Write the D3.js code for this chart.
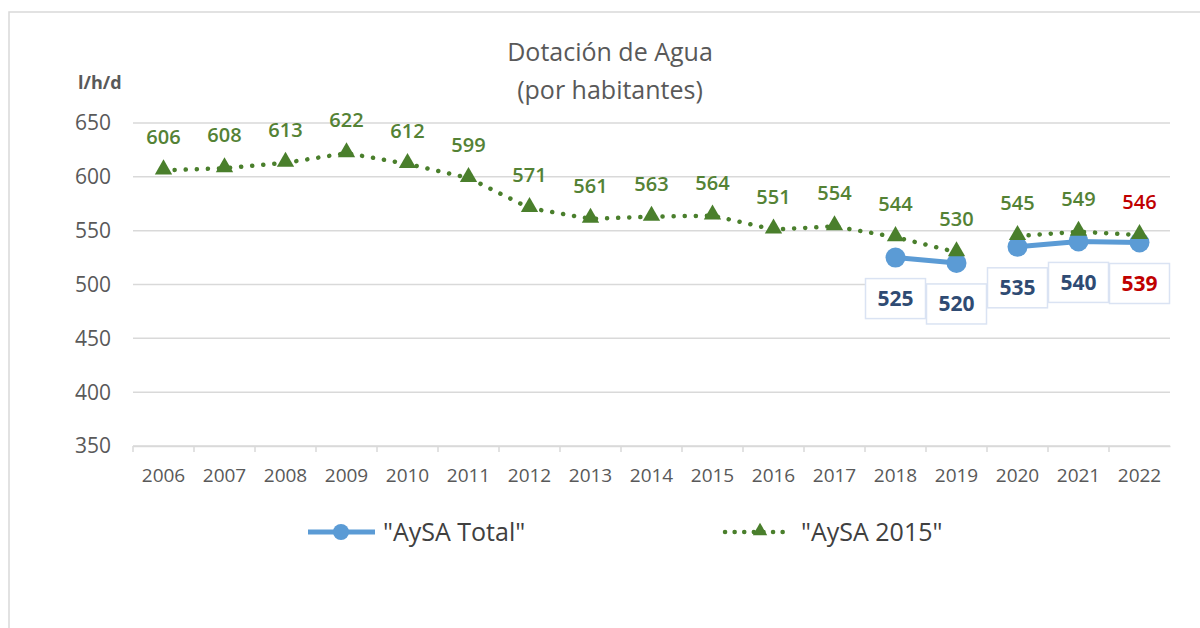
<!DOCTYPE html>
<html>
<head>
<meta charset="utf-8">
<title>Dotación de Agua</title>
<script src="https://d3js.org/d3.v7.min.js"></script>
<style>
body { margin: 0; background: #fff; font-family: 'Open Sans', 'Noto Sans', sans-serif; }
svg { display: block; }
</style>
</head>
<body>
<svg id="chart" width="1200" height="628"></svg>
<script>
  var years = ["2006","2007","2008","2009","2010","2011","2012","2013","2014","2015","2016","2017","2018","2019","2020","2021","2022"];
  // null = no value for that year
  var aysa2015 = [606, 608, 613, 622, 612, 599, 571, 561, 563, 564, 551, 554, 544, 530, 545, 549, 546];
  var aysaTotal = [null, null, null, null, null, null, null, null, null, null, null, null, 525, 520, 535, 540, 539];
  var segmentStarts = ["2020"]; // line breaks before these years
  var yTicks = [350, 400, 450, 500, 550, 600, 650];
  var redYear = "2022";

  var svg = d3.select("#chart");

  // outer frame
  svg.append("rect")
    .attr("x", 9).attr("y", 12).attr("width", 1200).attr("height", 640)
    .attr("fill", "none").attr("stroke", "#d9d9d9").attr("stroke-width", 1.5);

  var x = d3.scaleBand().domain(years).range([133, 1170]);
  var y = d3.scaleLinear().domain([350, 650]).range([446, 123]);
  var cx = function (yr) { return x(yr) + x.bandwidth() / 2; };

  // gridlines
  svg.append("g").selectAll("line").data(yTicks).join("line")
    .attr("x1", 133).attr("x2", 1170)
    .attr("y1", function (d) { return y(d); }).attr("y2", function (d) { return y(d); })
    .attr("stroke", "#d9d9d9").attr("stroke-width", 1.5);

  // y axis labels
  svg.append("g").selectAll("text").data(yTicks).join("text")
    .attr("x", 111).attr("y", function (d) { return y(d); })
    .attr("dy", "0.35em").attr("text-anchor", "end")
    .attr("font-size", 21).attr("fill", "#595959")
    .text(function (d) { return d; });

  // x axis with tick marks between categories
  var xAxis = svg.append("g").attr("transform", "translate(0," + y(350) + ")")
    .call(d3.axisBottom(x).tickSize(0).tickPadding(23));
  xAxis.select(".domain").attr("stroke", "#d9d9d9").attr("stroke-width", 1.5);
  xAxis.selectAll("text").attr("font-size", 19).attr("fill", "#595959")
    .attr("font-family", "'Open Sans', 'Noto Sans', sans-serif");
  xAxis.selectAll(".tickmark").data(years).join("line")
    .attr("class", "tickmark")
    .attr("x1", function (d) { return x(d); }).attr("x2", function (d) { return x(d); })
    .attr("y1", 0).attr("y2", 6).attr("stroke", "#d9d9d9").attr("stroke-width", 1.5);

  // titles
  svg.append("text").attr("x", 610).attr("y", 61).attr("text-anchor", "middle")
    .attr("font-size", 25).attr("fill", "#595959").text("Dotación de Agua");
  svg.append("text").attr("x", 610).attr("y", 99).attr("text-anchor", "middle")
    .attr("font-size", 25).attr("fill", "#595959").text("(por habitantes)");
  svg.append("text").attr("x", 78).attr("y", 89)
    .attr("font-size", 18).attr("font-weight", "bold").attr("fill", "#595959").text("l/h/d");

  function series(values) {
    return years.map(function (yr, i) { return { year: yr, value: values[i] }; });
  }
  var line = d3.line()
    .defined(function (d) { return d.value != null; })
    .x(function (d) { return cx(d.year); })
    .y(function (d) { return y(d.value); });

  function withBreaks(data) {
    var out = [];
    data.forEach(function (d) {
      if (segmentStarts.indexOf(d.year) >= 0) out.push({ year: d.year, value: null });
      out.push(d);
    });
    return out;
  }

  var dataTotal = series(aysaTotal);
  var data2015 = series(aysa2015);

  var green = "#548235";
  var markerGreen = "#4a7f2c";
  var blue = "#5b9bd5";

  // AySA 2015 dotted line
  svg.append("path").attr("d", line(withBreaks(data2015)))
    .attr("fill", "none").attr("stroke", markerGreen).attr("stroke-width", 4.5)
    .attr("stroke-linecap", "round").attr("stroke-dasharray", "0.1 11");

  // AySA Total line
  svg.append("path").attr("d", line(withBreaks(dataTotal)))
    .attr("fill", "none").attr("stroke", blue).attr("stroke-width", 5);

  svg.append("g").selectAll("circle").data(dataTotal.filter(function (d) { return d.value != null; })).join("circle")
    .attr("cx", function (d) { return cx(d.year); }).attr("cy", function (d) { return y(d.value); })
    .attr("r", 10).attr("fill", blue);

  var tri = d3.symbol().type(d3.symbolTriangle).size(130);
  svg.append("g").selectAll("path").data(data2015).join("path")
    .attr("d", tri)
    .attr("transform", function (d) { return "translate(" + cx(d.year) + "," + (y(d.value) - 1) + ")"; })
    .attr("fill", markerGreen);

  // green labels
  svg.append("g").selectAll("text").data(data2015).join("text")
    .attr("x", function (d) { return cx(d.year); })
    .attr("y", function (d) { return y(d.value) - 33; })
    .attr("dy", "0.35em").attr("text-anchor", "middle")
    .attr("font-size", 20).attr("font-weight", 600)
    .attr("fill", function (d) { return d.year === redYear ? "#c00000" : green; })
    .text(function (d) { return d.value; });

  // boxed blue labels
  var boxes = svg.append("g").selectAll("g").data(dataTotal.filter(function (d) { return d.value != null; })).join("g")
    .attr("transform", function (d) { return "translate(" + cx(d.year) + "," + (y(d.value) + 41) + ")"; });
  boxes.append("rect").attr("x", -30).attr("y", -20).attr("width", 60).attr("height", 40)
    .attr("fill", "#fff").attr("stroke", "#dae3f3").attr("stroke-width", 1.5);
  boxes.append("text").attr("text-anchor", "middle").attr("dy", "0.35em")
    .attr("font-size", 21).attr("font-weight", "bold")
    .attr("fill", function (d) { return d.year === redYear ? "#c00000" : "#2f4b73"; })
    .text(function (d) { return d.value; });

  // legend
  var lg = svg.append("g");
  lg.append("line").attr("x1", 308).attr("x2", 375).attr("y1", 532).attr("y2", 532)
    .attr("stroke", blue).attr("stroke-width", 5);
  lg.append("circle").attr("cx", 341).attr("cy", 532).attr("r", 8).attr("fill", blue);
  lg.append("text").attr("x", 383).attr("y", 532).attr("dy", "0.35em")
    .attr("font-size", 25).attr("fill", "#404040").text('"AySA Total"');
  lg.append("line").attr("x1", 725).attr("x2", 792).attr("y1", 532).attr("y2", 532)
    .attr("stroke", markerGreen).attr("stroke-width", 4.5)
    .attr("stroke-linecap", "round").attr("stroke-dasharray", "0.1 9.5");
  lg.append("path").attr("d", d3.symbol().type(d3.symbolTriangle).size(90))
    .attr("transform", "translate(760,531)").attr("fill", markerGreen);
  lg.append("text").attr("x", 801).attr("y", 532).attr("dy", "0.35em")
    .attr("font-size", 25).attr("fill", "#404040").text('"AySA 2015"');
</script>
</body>
</html>
